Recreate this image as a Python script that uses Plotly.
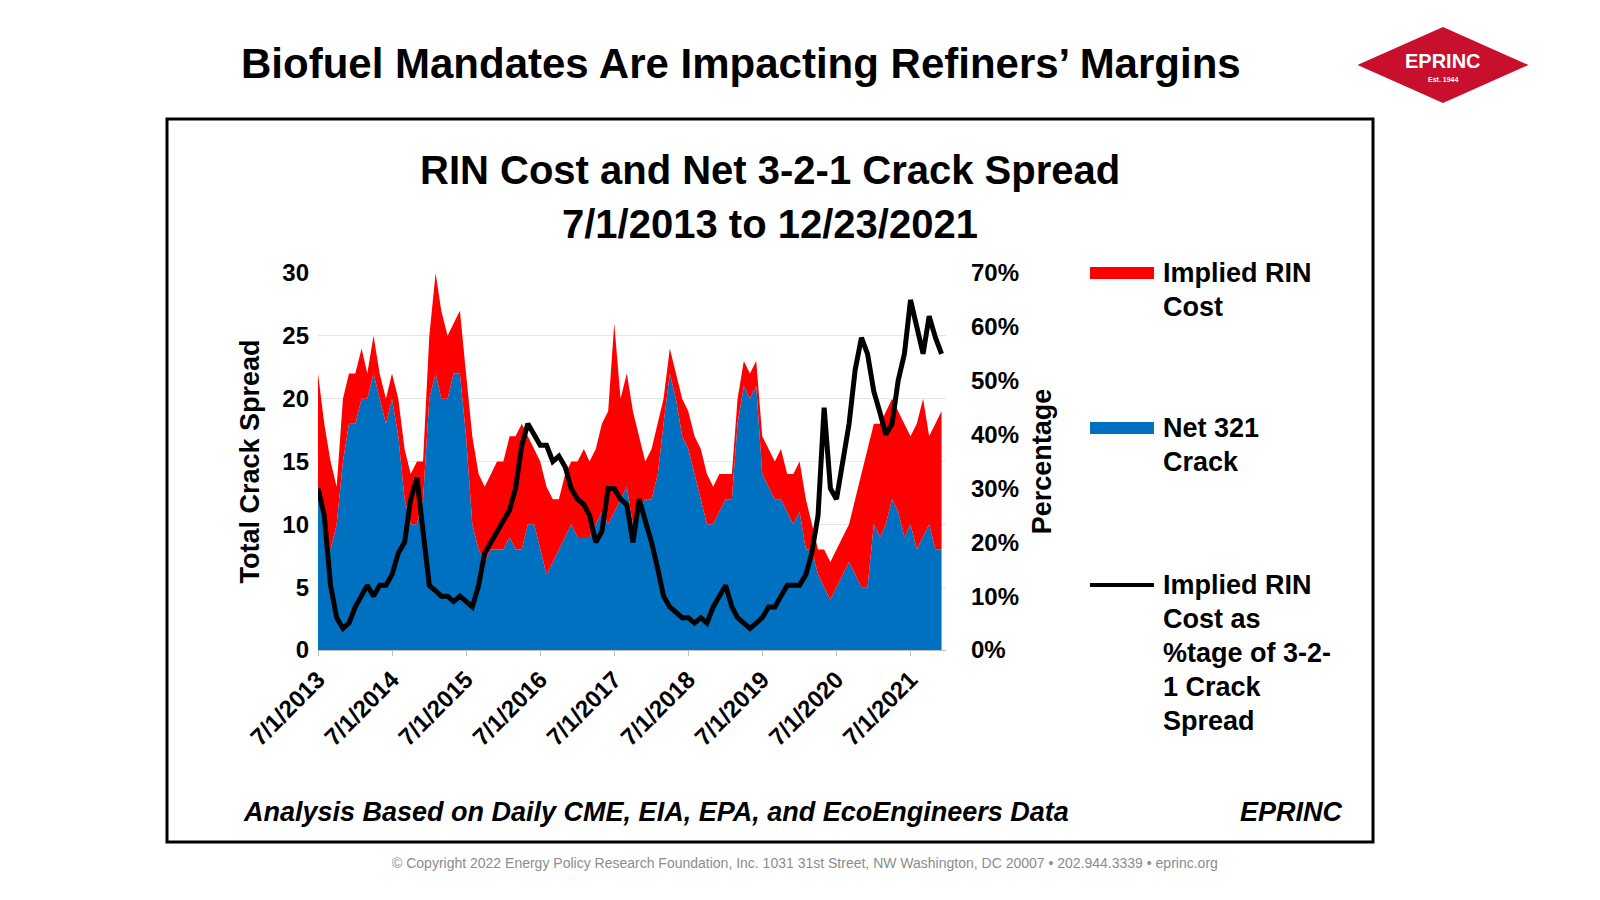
import pandas as pd
import plotly.graph_objects as go

# monthly readings, Jul 2013 .. Dec 2021
months = pd.date_range("2013-07-01", "2021-12-01", freq="MS")

total_crack = [
    22, 18, 15, 13, 20, 22,
    22, 24, 22, 25, 22, 20, 22, 20, 16, 14, 15, 15,
    25, 30, 27, 25, 26, 27, 22, 17, 14, 13, 14, 15,
    15, 17, 17, 18, 17, 16, 15, 13, 12, 12, 14, 15,
    15, 16, 15, 16, 18, 19, 26, 20, 22, 19, 17, 15,
    16, 18, 20, 24, 22, 20, 19, 17, 16, 14, 13, 14,
    14, 14, 20, 23, 22, 23, 17, 16, 15, 16, 14, 14,
    15, 12, 10, 8, 8, 7, 8, 9, 10, 12, 14, 16,
    18, 18, 19, 20, 19, 18, 17, 18, 20, 17, 18, 19,
]
net_crack = [
    13, 10, 8, 10, 15, 18,
    18, 20, 20, 22, 20, 18, 20, 17, 12, 10, 10, 12,
    20, 22, 20, 20, 22, 22, 17, 10, 8, 7, 8, 8,
    8, 9, 8, 8, 10, 10, 8, 6, 7, 8, 9, 10,
    9, 9, 9, 10, 11, 10, 11, 12, 13, 10, 11, 12,
    12, 14, 18, 22, 20, 17, 16, 14, 12, 10, 10, 11,
    12, 12, 18, 21, 20, 21, 14, 13, 12, 12, 11, 10,
    11, 8, 8, 6, 5, 4, 5, 6, 7, 6, 5, 5,
    10, 9, 10, 12, 11, 9, 10, 8, 9, 10, 8, 8,
]
rin_pct = [
    30, 25, 12, 6, 4, 5,
    8, 10, 12, 10, 12, 12, 14, 18, 20, 28, 32, 22,
    12, 11, 10, 10, 9, 10, 9, 8, 12, 18, 20, 22,
    24, 26, 30, 38, 42, 40, 38, 38, 35, 36, 34, 30,
    28, 27, 25, 20, 22, 30, 30, 28, 27, 20, 28, 24,
    20, 15, 10, 8, 7, 6, 6, 5, 6, 5, 8, 10,
    12, 8, 6, 5, 4, 5, 6, 8, 8, 10, 12, 12,
    12, 14, 18, 25, 45, 30, 28, 35, 42, 52, 58, 55,
    48, 44, 40, 42, 50, 55, 65, 60, 55, 62, 58, 55,
]
tick_dates = [f"{y}-07-01" for y in range(2013, 2022)]
tick_text = [f"<b>7/1/{y}</b>" for y in range(2013, 2022)]

FONT = "Liberation Sans"
fig = go.Figure()
fig.add_trace(go.Scatter(x=months, y=net_crack, mode="lines", line=dict(width=0, color="#0070C0"),
                         fill="tozeroy", fillcolor="#0070C0", showlegend=False))
fig.add_trace(go.Scatter(x=months, y=total_crack, mode="lines", line=dict(width=0, color="#FF0000"),
                         fill="tonexty", fillcolor="#FF0000", showlegend=False))
fig.add_trace(go.Scatter(x=months, y=[v / 100 for v in rin_pct], mode="lines", yaxis="y2",
                         line=dict(width=5, color="black"), showlegend=False))

fig.update_layout(
    width=1600, height=900, margin=dict(l=0, r=0, t=0, b=0, autoexpand=False),
    paper_bgcolor="white", plot_bgcolor="white",
    font=dict(family=FONT, color="black"),
    xaxis=dict(domain=[310 / 1600, 938 / 1600], range=["2013-07-01", "2021-12-23"], automargin=False,
               tickvals=tick_dates, ticktext=tick_text, tickangle=-45,
               tickfont=dict(size=24, family=FONT), showgrid=False,
               showline=True, linecolor="#bfbfbf", ticks="outside", ticklen=5, tickcolor="#bfbfbf"),
    yaxis=dict(domain=[1 - 642 / 900, 1 - 265 / 900], range=[0, 30], dtick=5, automargin=False,
               tickfont=dict(size=24, family=FONT), showgrid=True, gridcolor="#e5e5e5",
               tickprefix="<b>", ticksuffix="</b>", ticklabelstandoff=8,
               title=dict(text="<b>Total Crack Spread</b>", font=dict(size=27), standoff=14)),
    yaxis2=dict(overlaying="y", side="right", range=[0, 0.7], dtick=0.1, tickformat=".0%", automargin=False,
                tickfont=dict(size=24, family=FONT), showgrid=False, ticklabelstandoff=24,
                tickprefix="<b>", ticksuffix="</b>",
                title=dict(text="<b>Percentage</b>", font=dict(size=27), standoff=14)),
)

# box frame
fig.add_shape(type="rect", xref="paper", yref="paper", x0=159 / 1600, x1=1365 / 1600,
              y0=1 - 834 / 900, y1=1 - 111 / 900, line=dict(color="black", width=3))


def text(x, y, s, size, xanchor="center", color="black"):
    fig.add_annotation(xref="paper", yref="paper", x=x / 1600, y=1 - y / 900, text=s,
                       xanchor=xanchor, yanchor="middle", showarrow=False,
                       font=dict(size=size, family=FONT, color=color))


text(733, 56, "<b>Biofuel Mandates Are Impacting Refiners’ Margins</b>", 42)
text(762, 162, "<b>RIN Cost and Net 3-2-1 Crack Spread</b>", 40)
text(762, 216, "<b>7/1/2013 to 12/23/2021</b>", 40)
text(648, 804, "<b><i>Analysis Based on Daily CME, EIA, EPA, and EcoEngineers Data</i></b>", 27)
text(1283, 804, "<b><i>EPRINC</i></b>", 27)
text(797, 855, "© Copyright 2022 Energy Policy Research Foundation, Inc. 1031 31st Street, NW Washington, DC 20007 • 202.944.3339 • eprinc.org",
     14, color="#8c8c8c")

# legend
legend = [(265, "#FF0000", 12, ["Implied RIN", "Cost"]),
          (420, "#0070C0", 12, ["Net 321", "Crack"]),
          (577, "black", 4, ["Implied RIN", "Cost as", "%tage of 3-2-", "1 Crack", "Spread"])]
for ly, col, w, lines in legend:
    fig.add_shape(type="line", xref="paper", yref="paper", x0=1082 / 1600, x1=1146 / 1600,
                  y0=1 - ly / 900, y1=1 - ly / 900, line=dict(color=col, width=w))
    for i, line in enumerate(lines):
        text(1153, ly + i * 34, f"<b>{line}</b>", 27, xanchor="left")

# logo
fig.add_shape(type="path", xref="paper", yref="paper",
              path=f"M {1352/1600} {1-57/900} L {1435/1600} {1-20/900} L {1518/1600} {1-57/900} L {1435/1600} {1-94/900} Z",
              fillcolor="#C8102E", line=dict(color="#C8102E"))
text(1435, 53, "<b>EPRINC</b>", 20, color="white")
text(1435, 72, "<b>Est. 1944</b>", 7, color="white")

fig.write_html("out.html")
